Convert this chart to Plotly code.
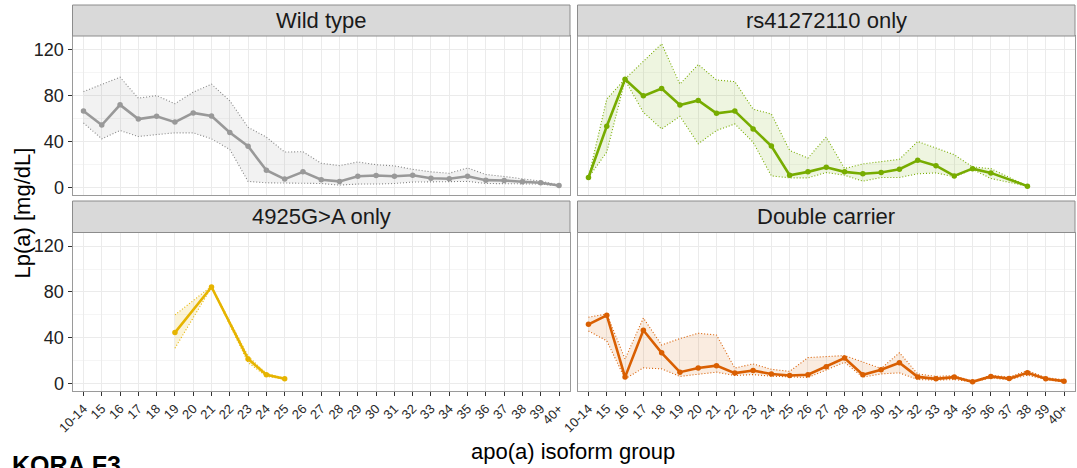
import plotly.graph_objects as go

# ---------------- data ----------------
categories = ["10-14", "15", "16", "17", "18", "19", "20", "21", "22", "23", "24", "25",
              "26", "27", "28", "29", "30", "31", "32", "33", "34", "35", "36", "37",
              "38", "39", "40+"]

wt_mean = [66.6, 54.5, 72.0, 59.7, 62.0, 57.0, 65.0, 62.3, 48.0, 36.0, 15.2, 7.5, 13.8,
           6.9, 5.5, 10.0, 10.6, 10.0, 10.9, 8.3, 7.8, 10.0, 6.6, 6.3, 5.2, 4.3, 2.0]
wt_upper = [83.5, 90.0, 96.0, 77.8, 80.0, 73.0, 83.0, 90.0, 75.5, 52.5, 44.0, 31.0, 31.3,
            21.2, 19.2, 22.4, 20.0, 19.0, 16.0, 13.8, 12.6, 17.2, 11.5, 9.8, 7.8, 5.7, 2.3]
wt_lower = [56.3, 42.5, 49.7, 44.5, 46.2, 47.7, 47.7, 42.5, 33.3, 5.5, 4.3, 4.0, 4.0,
            3.7, 2.3, 3.2, 3.2, 3.7, 4.9, 4.9, 5.2, 5.5, 3.7, 3.7, 3.2, 3.2, 1.4]

rs_mean = [8.9, 53.4, 94.2, 79.8, 86.1, 71.8, 75.8, 64.6, 66.6, 51.1, 36.2, 10.9, 13.8,
           17.8, 13.8, 12.1, 13.2, 16.1, 23.8, 19.2, 10.3, 16.6, 12.9, None, 1.4, None, None]
rs_upper = [8.9, 77.0, 94.5, 110.0, 125.0, 90.0, 107.0, 93.6, 92.2, 68.3, 64.0, 32.4, 25.8,
            44.0, 16.7, 20.7, 23.0, 24.7, 40.2, 34.5, 28.7, 18.0, 16.6, None, 1.4, None, None]
rs_lower = [8.9, 31.0, 93.5, 65.5, 51.1, 62.0, 38.2, 49.7, 55.4, 39.6, 10.3, 8.6, 8.6,
            13.2, 10.9, 5.7, 8.9, 8.9, 12.1, 12.9, 9.5, 16.0, 8.0, None, 1.4, None, None]

g4925_mean = [None, None, None, None, None, 44.6, None, 84.3, None, 21.6, 7.8, 4.3,
              None, None, None, None, None, None, None, None, None, None, None, None,
              None, None, None]
g4925_upper = [None, None, None, None, None, 60.0, None, 85.0, None, 24.0, 9.0, 5.0,
               None, None, None, None, None, None, None, None, None, None, None, None,
               None, None, None]
g4925_lower = [None, None, None, None, None, 31.0, None, 84.0, None, 18.5, 6.5, 4.0,
               None, None, None, None, None, None, None, None, None, None, None, None,
               None, None, None]

dc_mean = [51.8, 59.7, 5.8, 46.6, 27.0, 10.1, 13.7, 15.8, 9.3, 11.5, 8.5, 7.2, 7.9,
           14.8, 22.4, 7.9, 12.2, 18.3, 6.0, 4.3, 5.8, 1.7, 6.4, 4.5, 9.6, 4.3, 2.3]
dc_upper = [58.0, 60.8, 21.6, 57.3, 33.8, 39.4, 44.0, 42.5, 13.7, 17.3, 12.6, 10.8, 22.8,
            23.5, 24.6, 19.0, 13.3, 27.0, 8.6, 6.4, 7.2, 2.2, 7.4, 5.8, 11.5, 5.4, 3.5]
dc_lower = [46.0, 37.4, 4.3, 13.8, 13.0, 6.4, 8.3, 10.1, 7.2, 8.0, 6.6, 6.0, 5.5,
            12.0, 18.7, 5.8, 8.6, 9.5, 3.7, 3.2, 3.7, 1.6, 5.0, 3.5, 7.5, 3.7, 1.4]

panel_titles = ["Wild type", "rs41272110 only", "4925G>A only", "Double carrier"]
y_ticks = [0, 40, 80, 120]

# ---------------- styling ----------------
W, H = 1077, 468
FONT = "Liberation Sans, Arial, sans-serif"
colors = ["#999999", "#77AC00", "#E6B400", "#D95F02"]
band_colors = ["#858585", "#77AC00", "#E6B400", "#D95F02"]
fills = ["rgba(153,153,153,0.13)", "rgba(119,172,0,0.12)",
         "rgba(230,180,0,0.15)", "rgba(217,95,2,0.12)"]

def fx(p):
    return p / W

def fy(p):
    return 1 - p / H

col_px = [(72.5, 570.0), (577.5, 1075.0)]
row_px = [(36.0, 195.0), (232.5, 391.0)]
strip_px = [(5.0, 36.0), (201.0, 232.5)]

series = [(wt_mean, wt_upper, wt_lower), (rs_mean, rs_upper, rs_lower),
          (g4925_mean, g4925_upper, g4925_lower), (dc_mean, dc_upper, dc_lower)]

fig = go.Figure()
shapes = []
annotations = []
layout_axes = {}

for i, (m, u, l) in enumerate(series):
    r, c = divmod(i, 2)
    xa = "x" if i == 0 else f"x{i + 1}"
    ya = "y" if i == 0 else f"y{i + 1}"
    col = colors[i]

    idx = [k for k in range(len(categories)) if u[k] is not None and l[k] is not None]
    xs = [categories[k] for k in idx] + [categories[k] for k in reversed(idx)]
    ys = [u[k] for k in idx] + [l[k] for k in reversed(idx)]
    fig.add_trace(go.Scatter(x=xs, y=ys, fill="toself", fillcolor=fills[i],
                             mode="lines", line=dict(width=0, color=fills[i]),
                             xaxis=xa, yaxis=ya, hoverinfo="skip", showlegend=False))
    for b in (u, l):
        fig.add_trace(go.Scatter(x=categories, y=b, mode="lines", connectgaps=True,
                                 line=dict(color=band_colors[i], width=1.1, dash="1px,2px"),
                                 xaxis=xa, yaxis=ya, hoverinfo="skip", showlegend=False))
    fig.add_trace(go.Scatter(x=categories, y=m, mode="lines+markers", connectgaps=True,
                             line=dict(color=col, width=2.6),
                             marker=dict(color=col, size=5.5),
                             xaxis=xa, yaxis=ya, showlegend=False))

    x0, x1 = col_px[c]
    y0, y1 = row_px[r]
    s0, s1 = strip_px[r]
    key_x = "xaxis" if i == 0 else f"xaxis{i + 1}"
    key_y = "yaxis" if i == 0 else f"yaxis{i + 1}"
    layout_axes[key_x] = dict(
        domain=[fx(x0), fx(x1)], anchor=ya, type="category", automargin=False,
        categoryorder="array", categoryarray=categories, range=[-0.6, 26.6],
        showgrid=True, gridcolor="#EBEBEB", gridwidth=1,
        showline=True, mirror=True, linecolor="#9A9A9A", linewidth=1,
        ticks="outside" if r == 1 else "", ticklen=4, tickcolor="#333333", tickwidth=1,
        showticklabels=(r == 1), tickangle=-45,
        tickfont=dict(family=FONT, size=13, color="#2A2A2A"),
        zeroline=False, fixedrange=True)
    layout_axes[key_y] = dict(
        domain=[fy(y1), fy(y0)], anchor=xa, range=[-6.3, 131.8], automargin=False,
        tickmode="array", tickvals=y_ticks,
        showgrid=True, gridcolor="#EBEBEB", gridwidth=1,
        minor=dict(tickmode="array", tickvals=[20, 60, 100], showgrid=True,
                   gridcolor="#F5F5F5", gridwidth=0.6, ticks=""),
        showline=True, mirror=True, linecolor="#9A9A9A", linewidth=1,
        ticks="outside" if c == 0 else "", ticklen=4, tickcolor="#333333", tickwidth=1,
        showticklabels=(c == 0),
        tickfont=dict(family=FONT, size=18, color="#222222"),
        zeroline=False, fixedrange=True)

    shapes.append(dict(type="rect", xref="paper", yref="paper",
                       x0=fx(x0), x1=fx(x1), y0=fy(s1), y1=fy(s0),
                       fillcolor="#D9D9D9", line=dict(color="#8C8C8C", width=1)))
    annotations.append(dict(text=panel_titles[i], xref="paper", yref="paper",
                            x=fx((x0 + x1) / 2), y=fy((s0 + s1) / 2),
                            xanchor="center", yanchor="middle", showarrow=False,
                            font=dict(family=FONT, size=22, color="#1A1A1A")))

annotations.append(dict(text="Lp(a) [mg/dL]", xref="paper", yref="paper",
                        x=fx(22), y=fy(213.5), xanchor="center", yanchor="middle",
                        textangle=-90, showarrow=False,
                        font=dict(family=FONT, size=22, color="#000000")))
annotations.append(dict(text="apo(a) isoform group", xref="paper", yref="paper",
                        x=fx(573), y=fy(451), xanchor="center", yanchor="middle",
                        showarrow=False,
                        font=dict(family=FONT, size=22, color="#000000")))
annotations.append(dict(text="<b>KORA F3</b>", xref="paper", yref="paper",
                        x=fx(10), y=fy(449), xanchor="left", yanchor="top",
                        showarrow=False,
                        font=dict(family=FONT, size=25, color="#000000")))

fig.update_layout(width=W, height=H, margin=dict(l=0, r=0, t=0, b=0, autoexpand=False),
                  plot_bgcolor="white", paper_bgcolor="white",
                  shapes=shapes, annotations=annotations, showlegend=False,
                  **layout_axes)

fig.write_html("out.html")
